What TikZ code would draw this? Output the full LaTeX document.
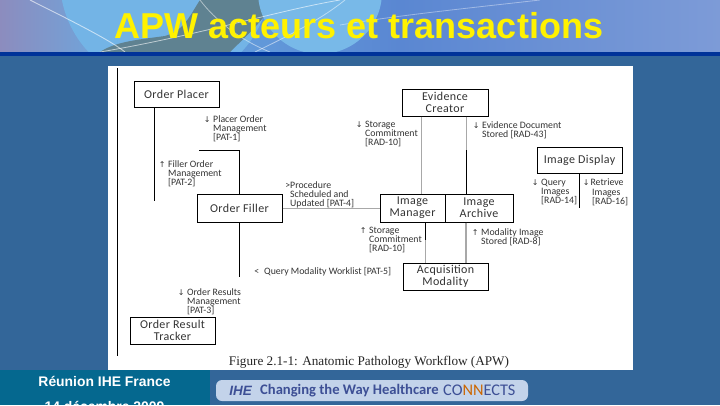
\documentclass[tikz,border=0pt]{standalone}
\usepackage{fontspec}
\setmainfont{Liberation Sans}
\newfontfamily\calf{Carlito}
\newfontfamily\calw[LetterSpace=3]{Carlito}
\newfontfamily\arrowf{DejaVu Sans}
\newfontfamily\serf{Liberation Serif}
\definecolor{bgblue}{HTML}{336699}
\definecolor{footteal}{HTML}{05688F}
\definecolor{rulebl}{HTML}{003399}
\definecolor{pill}{HTML}{C3D3EA}
\definecolor{ihe}{HTML}{3D4F95}
\definecolor{gline}{HTML}{A8A8A8}
\definecolor{txt}{HTML}{333333}
\definecolor{hA}{RGB}{140,140,190}
\definecolor{hB}{RGB}{105,170,225}
\definecolor{hC}{RGB}{90,135,210}
\definecolor{hD}{RGB}{125,155,215}
\definecolor{globeA}{RGB}{115,180,230}
\definecolor{globeB}{RGB}{120,185,232}
\definecolor{land}{RGB}{95,130,145}
\tikzset{
  actor/.style={draw=black,line width=1pt,fill=white,inner sep=0pt,align=center,font=\calw\fontsize{12}{12.3}\selectfont,text=txt},
  lnk/.style={draw=black,line width=1pt},
  glnk/.style={draw=gline,line width=1pt},
  lbl/.style={anchor=north west,inner sep=0pt,align=left,font=\calf\fontsize{9.8}{9.2}\selectfont,text=txt},
}
\newcommand{\arrd}{\llap{\arrowf\fontsize{8}{9}\selectfont ↓\,\,}}
\newcommand{\arru}{\llap{\arrowf\fontsize{8}{9}\selectfont ↑\,\,}}
\begin{document}
\begin{tikzpicture}[x=1pt,y=-1pt]
\useasboundingbox (0,0) rectangle (720,405);
\clip (0,0) rectangle (720,405);
\fill[bgblue] (0,0) rectangle (720,405);
% header
\shade[left color=hA,right color=hB] (0,0) rectangle (120,52);
\shade[left color=hB,right color=hC] (120,0) rectangle (400,52);
\shade[left color=hC,right color=hD] (400,0) rectangle (720,52);
\begin{scope}
\clip (0,0) rectangle (720,52);
\fill[globeA] (165,-20) circle (105);
\fill[land] (100,52) .. controls (115,42) and (135,40) .. (165,36) .. controls (185,30) and (190,15) .. (200,0) -- (275,0) .. controls (265,20) and (240,42) .. (230,52) -- cycle;
\fill[globeB] (320,-8) circle (62);
\draw[white,opacity=.6,line width=.9pt] (30,0) .. controls (70,20) and (110,40) .. (125,52);
\draw[white,opacity=.6,line width=.8pt] (100,52) .. controls (200,35) and (280,10) .. (340,0);
\draw[white,opacity=.5,line width=.8pt] (200,0) .. controls (215,20) and (240,40) .. (270,52);
\draw[white,opacity=.5,line width=.8pt] (255,52) .. controls (290,35) and (320,20) .. (345,0);
\draw[white,opacity=.4,line width=.8pt] (340,25) .. controls (400,15) and (470,8) .. (540,0);
\end{scope}
\fill[rulebl] (0,52) rectangle (720,56);
\node[inner sep=0pt,text=yellow,font=\bfseries\fontsize{36}{38}\selectfont] (title) at (359,26) {APW acteurs et transactions};
% panel
\fill[white] (108,66) rectangle (633,370);
\coordinate (ltop) at (117,68);
\coordinate (lbot) at (117,356);
\draw[lnk] (ltop) -- (lbot);
% actors
\node[actor,minimum width=85pt,minimum height=26pt] (placer) at (176.5,94) {Order Placer};
\node[actor,minimum width=85pt,minimum height=28pt] (filler) at (239.5,208) {Order Filler};
\node[actor,minimum width=86pt,minimum height=27pt] (creator) at (445,102.5) {Evidence\\Creator};
\node[actor,minimum width=85pt,minimum height=26pt] (display) at (579.5,160) {Image Display};
\node[actor,minimum width=65pt,minimum height=28pt] (manager) at (412.5,208) {Image\\Manager};
\node[actor,minimum width=68pt,minimum height=28pt] (archive) at (479,208) {Image\\Archive};
\node[actor,minimum width=85pt,minimum height=27pt] (modality) at (445.5,276.5) {Acquisition\\Modality};
\node[actor,minimum width=85pt,minimum height=27pt] (tracker) at (172.5,330.5) {Order Result\\Tracker};
% connectors
\coordinate (p1) at (154.5,201);
\draw[lnk] (placer.south -| p1) -- (p1);
\coordinate (f1) at (239,150);
\coordinate (f2) at (199,150);
\draw[lnk] (filler.north -| f1) -- (f1) -- (f2);
\coordinate (f3) at (239,277);
\draw[lnk] (filler.south -| f3) -- (f3);
\draw[gline,line width=.7pt] (filler.east) -- (manager.west);
\coordinate (c1) at (421.7,150);
\draw[glnk] (creator.south -| c1) -- (manager.north -| c1);
\coordinate (c2) at (466,150);
\draw[glnk] (creator.south -| c2) -- (c2);
\draw[lnk] (c2) -- (archive.north -| c2);
\coordinate (d1) at (579,208);
\draw[lnk] (display.south -| d1) -- (d1);
\coordinate (m1) at (425.7,240);
\draw[lnk] (manager.south -| m1) -- (m1);
\draw[glnk] (m1) -- (modality.north -| m1);
\coordinate (m2) at (466,240);
\draw[gline,line width=1.5pt] (archive.south -| m2) -- (modality.north -| m2);
% labels
\node[lbl] (l1) at (213,115.5) {\arrd Placer Order\\Management\\{[PAT-1]}};
\node[lbl] (l2) at (168,160.5) {\arru Filler Order\\Management\\{[PAT-2]}};
\node[lbl] (l3) at (290,181) {\llap{>}Procedure\\Scheduled and\\Updated [PAT-4]};
\node[lbl] (l4) at (365,121) {\arrd Storage\\Commitment\\{[RAD-10]}};
\node[lbl] (l5) at (482,121) {\arrd Evidence Document\\Stored [RAD-43]};
\node[lbl] (l6) at (541,179) {\arrd Query\\Images\\{[RAD-14]}};
\node[lbl] (l7) at (592,179) {\arrd\!Retrieve\\Images\\{[RAD-16]}};
\node[lbl] (l8) at (369,227) {\arru Storage\\Commitment\\{[RAD-10]}};
\node[lbl] (l9) at (481,228) {\arru Modality Image\\Stored [RAD-8]};
\node[lbl] (l10) at (264,267) {\llap{<\,\,\,}Query Modality Worklist [PAT-5]};
\node[lbl] (l11) at (187,288) {\arrd Order Results\\Management\\{[PAT-3]}};
\node[inner sep=0pt,text=black!85,font=\serf\fontsize{13.2}{14}\selectfont] (cap) at (369,362.5) {Figure 2.1-1: Anatomic Pathology Workflow (APW)};
% footer
\fill[footteal] (0,370) rectangle (210,405);
\node[inner sep=0pt,text=white,font=\bfseries\fontsize{13.9}{15}\selectfont] (f-a) at (104.5,381.5) {Réunion IHE France};
\node[inner sep=0pt,text=white,font=\bfseries\fontsize{13.9}{15}\selectfont] (f-b) at (104.5,406) {14 décembre 2009};
\fill[pill,rounded corners=6pt] (216,380) rectangle (528,401);
\node[inner sep=0pt,text=ihe,font=\bfseries\itshape\fontsize{13.5}{14}\selectfont] (ihe) at (240.5,390.5) {IHE};
\node[anchor=west,inner sep=0pt,text=ihe,font=\calf\bfseries\fontsize{14.6}{16}\selectfont] (slogan) at (260,390.5) {Changing the Way Healthcare};
\node[anchor=west,inner sep=0pt,text=ihe,font=\calf\fontsize{16.3}{16}\selectfont] (connects) at (443,390.5) {CO\textcolor{orange!80!black}{NN}ECTS};
\end{tikzpicture}
\end{document}
